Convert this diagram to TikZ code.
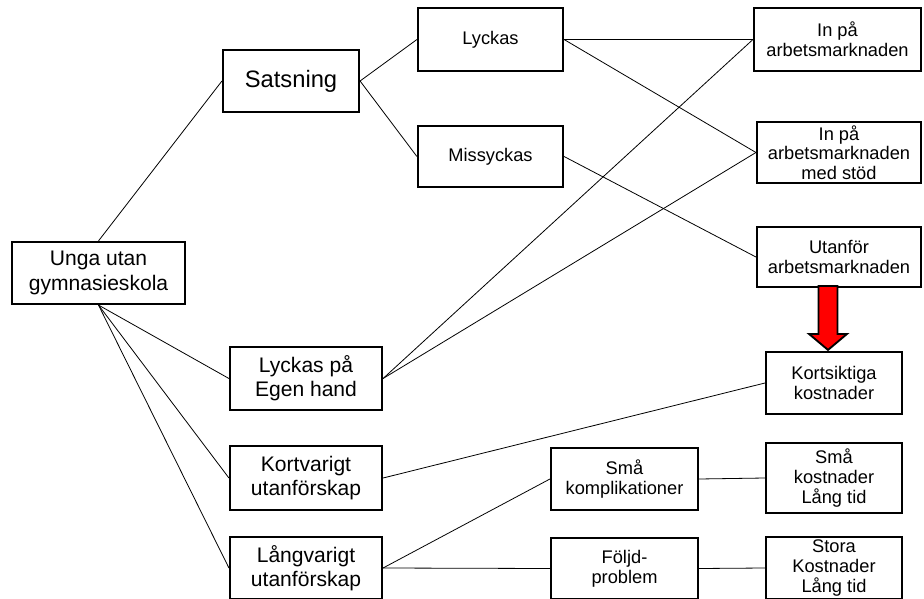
\documentclass[tikz,border=0pt]{standalone}
\usepackage{fontspec}
\setmainfont{Liberation Sans}
\begin{document}
\begin{tikzpicture}[x=0.75pt, y=-0.75pt,
    box/.style={draw, rectangle, line width=1.6pt, inner sep=0pt, align=center, font=\fontsize{13.7}{14.8}\selectfont},
    bigtext/.style={font=\fontsize{15.8}{18.2}\selectfont},
    link/.style={line width=0.6pt},
    redarrow/.style={draw=black, fill=red, line width=1.4pt, line join=miter}]

    \useasboundingbox (0,0) rectangle (924,599);

    % Start
    \node[box, bigtext, minimum width=129.75pt, minimum height=46.5pt] (unga) at (98.5,273) {Unga utan\\gymnasieskola};

    % First choice
    \node[box, font=\fontsize{17.8}{20}\selectfont, minimum width=102pt, minimum height=46.5pt] (sats) at (291,81) {Satsning};
    \node[box, bigtext, minimum width=114pt, minimum height=47.25pt] (egen) at (306,378.5) {Lyckas på\\Egen hand};
    \node[box, bigtext, minimum width=114pt, minimum height=48pt] (kortv) at (306,478) {Kortvarigt\\utanförskap};
    \node[box, bigtext, minimum width=114pt, minimum height=46.5pt] (langv) at (306,568) {Långvarigt\\utanförskap};

    % Outcome of satsning
    \node[box, minimum width=108.75pt, minimum height=47.25pt] (lyckas) at (490.5,39.5) {Lyckas};
    \node[box, minimum width=108.75pt, minimum height=45.75pt] (miss) at (490.5,156.5) {Missyckas};

    % Long term paths
    \node[box, minimum width=110.25pt, minimum height=46.5pt] (smak) at (624.5,479) {Små\\komplikationer};
    \node[box, minimum width=110.25pt, minimum height=45.75pt] (foljd) at (624.5,568.5) {Följd-\\problem};

    % End states
    \node[box, minimum width=125.25pt, minimum height=47.25pt] (inpa) at (837.5,39.5) {In på\\arbetsmarknaden};
    \node[box, minimum width=123pt, minimum height=45.75pt] (stod) at (839,152.5) {In på\\arbetsmarknaden\\med stöd};
    \node[box, minimum width=123pt, minimum height=45pt] (utan) at (839,257) {Utanför\\arbetsmarknaden};
    \node[box, minimum width=102pt, minimum height=46.5pt] (kort) at (834,383) {Kortsiktiga\\kostnader};
    \node[box, minimum width=102pt, minimum height=52.5pt] (smakost) at (834,478) {Små\\kostnader\\Lång tid};
    \node[box, minimum width=102pt, minimum height=46.5pt] (stora) at (834,568) {Stora\\Kostnader\\Lång tid};

    % Edges from start
    \draw[link] (unga.north) -- (sats.west);
    \foreach \t in {egen,kortv,langv} {
        \draw[link] (unga.south) -- (\t.west);
    }

    % Edges from satsning
    \foreach \t in {lyckas,miss} {
        \draw[link] (sats.east) -- (\t.west);
    }

    % Edges into the labour market
    \foreach \s in {lyckas,egen} {
        \foreach \t in {inpa,stod} {
            \draw[link] (\s.east) -- (\t.west);
        }
    }
    \draw[link] (miss.east) -- (utan.west);

    % Edges to costs
    \draw[link] (kortv.east) -- (kort.west);
    \foreach \t in {smak,foljd} {
        \draw[link] (langv.east) -- (\t.west);
    }
    \draw[link] (smak.east) -- (smakost.west);
    \draw[link] (foljd.east) -- (stora.west);

    % Red arrow
    \draw[redarrow] (kort.north) ++(-6,-1) -- ++(-19,-16) -- ++(9.5,0) -- ++(0,-48) -- ++(19,0) -- ++(0,48) -- ++(9.5,0) -- cycle;

\end{tikzpicture}
\end{document}
